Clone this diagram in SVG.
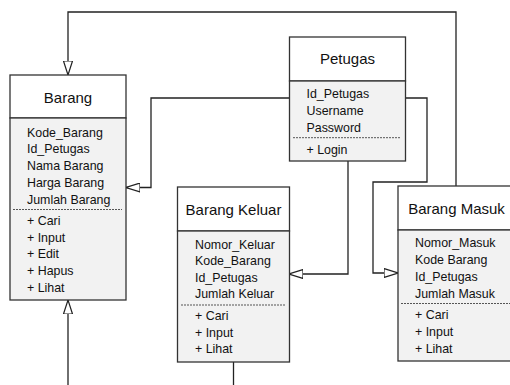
<svg xmlns="http://www.w3.org/2000/svg" width="510" height="385" viewBox="0 0 510 385">
  <style>
    .head { fill: #ffffff; stroke: #333333; stroke-width: 1.3; }
    .body { fill: #f2f2f2; stroke: #333333; stroke-width: 1.3; }
    .sep { stroke: #555555; stroke-width: 1; stroke-dasharray: 2 1; fill: none; }
    .title { font-family: "Liberation Sans", Arial, sans-serif; font-size: 15px; fill: #111111; text-anchor: middle; }
    .item { font-family: "Liberation Sans", Arial, sans-serif; font-size: 12.4px; fill: #111111; }
    .link { fill: none; stroke: #222222; stroke-width: 1.3; }
  </style>
  <defs>
    <marker id="hollow" viewBox="0 0 14 10" refX="14" refY="5" markerWidth="14" markerHeight="10" markerUnits="userSpaceOnUse" orient="auto">
      <path d="M0,0.5 L14,5 L0,9.5 Z" fill="#ffffff" stroke="#222222" stroke-width="1.2"/>
    </marker>
  </defs>

  <rect width="510" height="385" fill="#ffffff"/>

  <!-- connectors -->
  <g id="connectors">
    <polyline class="link" points="456,186 456,12 68,12 68,75" marker-end="url(#hollow)"/>
    <polyline class="link" points="289,98 151,98 151,187.5 126,187.5" marker-end="url(#hollow)"/>
    <polyline class="link" points="406,98 427,98 427,182 373,182 373,273 398,273" marker-end="url(#hollow)"/>
    <polyline class="link" points="348,161 348,274 289,274" marker-end="url(#hollow)"/>
    <polyline class="link" points="68,385 68,300" marker-end="url(#hollow)"/>
    <line class="link" x1="233.5" y1="362" x2="233.5" y2="385"/>
  </g>

  <!-- Barang -->
  <g id="barang">
    <rect class="head" x="10" y="75" width="116" height="43"/>
    <rect class="body" x="10" y="118" width="116" height="182"/>
    <text class="title" x="68" y="103">Barang</text>
    <text class="item" x="27" y="136.5">Kode_Barang</text>
    <text class="item" x="27" y="153.2">Id_Petugas</text>
    <text class="item" x="27" y="170">Nama Barang</text>
    <text class="item" x="27" y="186.7">Harga Barang</text>
    <text class="item" x="27" y="203.5">Jumlah Barang</text>
    <line class="sep" x1="13" y1="209.5" x2="122" y2="209.5"/>
    <text class="item" x="27" y="225">+ Cari</text>
    <text class="item" x="27" y="241.7">+ Input</text>
    <text class="item" x="27" y="258.4">+ Edit</text>
    <text class="item" x="27" y="275">+ Hapus</text>
    <text class="item" x="27" y="291.7">+ Lihat</text>
  </g>

  <!-- Petugas -->
  <g id="petugas">
    <rect class="head" x="289.5" y="37" width="116" height="44"/>
    <rect class="body" x="289.5" y="81" width="116" height="80"/>
    <text class="title" x="347.5" y="64">Petugas</text>
    <text class="item" x="306.5" y="98">Id_Petugas</text>
    <text class="item" x="306.5" y="115">Username</text>
    <text class="item" x="306.5" y="131.7">Password</text>
    <line class="sep" x1="293" y1="137.7" x2="401" y2="137.7"/>
    <text class="item" x="306.5" y="153.5">+ Login</text>
  </g>

  <!-- Barang Keluar -->
  <g id="barang-keluar">
    <rect class="head" x="177.5" y="187" width="112" height="44"/>
    <rect class="body" x="177.5" y="231" width="112" height="131"/>
    <text class="title" x="233.5" y="215">Barang Keluar</text>
    <text class="item" x="195" y="248.5">Nomor_Keluar</text>
    <text class="item" x="195" y="265">Kode_Barang</text>
    <text class="item" x="195" y="281.7">Id_Petugas</text>
    <text class="item" x="195" y="298.3">Jumlah Keluar</text>
    <line class="sep" x1="181" y1="305" x2="286" y2="305"/>
    <text class="item" x="195" y="320">+ Cari</text>
    <text class="item" x="195" y="336.7">+ Input</text>
    <text class="item" x="195" y="353.3">+ Lihat</text>
  </g>

  <!-- Barang Masuk -->
  <g id="barang-masuk">
    <rect class="head" x="398" y="186" width="124" height="44"/>
    <rect class="body" x="398" y="230" width="124" height="131"/>
    <text class="title" x="456.5" y="214">Barang Masuk</text>
    <text class="item" x="415" y="247.3">Nomor_Masuk</text>
    <text class="item" x="415" y="264">Kode Barang</text>
    <text class="item" x="415" y="280.7">Id_Petugas</text>
    <text class="item" x="415" y="297.5">Jumlah Masuk</text>
    <line class="sep" x1="401" y1="303.5" x2="510" y2="303.5"/>
    <text class="item" x="415" y="319">+ Cari</text>
    <text class="item" x="415" y="335.7">+ Input</text>
    <text class="item" x="415" y="352.5">+ Lihat</text>
  </g>
</svg>
